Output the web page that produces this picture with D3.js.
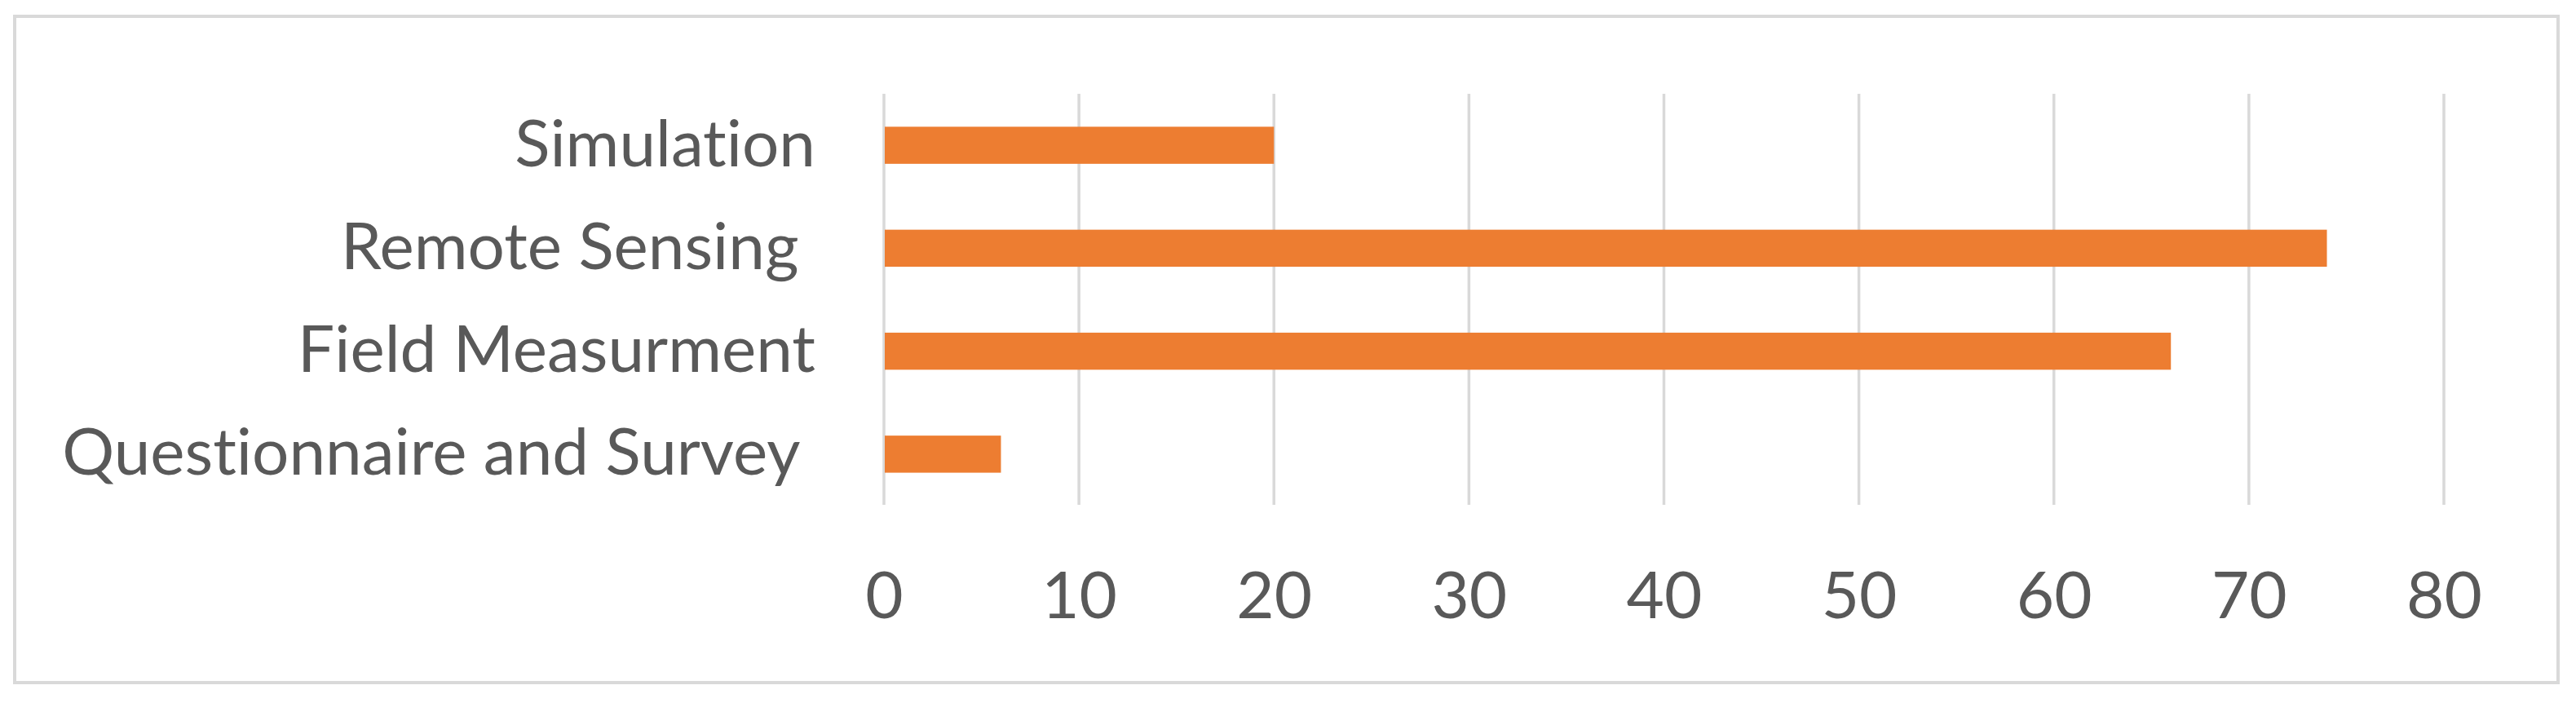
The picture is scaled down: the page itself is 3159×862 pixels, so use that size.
<!DOCTYPE html>
<html>
<head>
<meta charset="utf-8">
<script src="https://cdn.jsdelivr.net/npm/d3@7"></script>
<style>
  html, body { margin: 0; padding: 0; background: #ffffff; }
  svg text { white-space: pre; font-variant-ligatures: none; font-feature-settings: "liga" 0, "clig" 0; }
</style>
</head>
<body>
<svg id="chart" width="3159" height="862"></svg>
<script>
// Data
const categories = ["Simulation", "Remote Sensing ", "Field Measurment", "Questionnaire and Survey "];
const values = [20, 74, 66, 6];
const tickValues = [0, 10, 20, 30, 40, 50, 60, 70, 80];
const tickLabels = ["0", "10", "20", "30", "40", "50", "60", "70", "80"];

const svg = d3.select("#chart");
const fontFamily = "Lato, 'Open Sans', sans-serif";
const fontSize = 80;
const textColor = "#595959";
const gridColor = "#d9d9d9";
const barColor = "#ED7D31";

// outer border
svg.append("rect")
  .attr("x", 18).attr("y", 20)
  .attr("width", 3137 - 18).attr("height", 837 - 20)
  .attr("fill", "#ffffff")
  .attr("stroke", gridColor)
  .attr("stroke-width", 4);

const x = d3.scaleLinear().domain([0, 80]).range([1084, 2997]);
const y = d3.scaleBand().domain(categories).range([115, 620])
  .paddingInner(0.64).paddingOuter(0.32);

const plotTop = 115, plotBottom = 619;

// gridlines
svg.append("g")
  .selectAll("line")
  .data(tickValues)
  .join("line")
  .attr("x1", d => x(d)).attr("x2", d => x(d))
  .attr("y1", plotTop).attr("y2", plotBottom)
  .attr("stroke", gridColor)
  .attr("stroke-width", 3.5);

// bars
svg.append("g")
  .selectAll("rect")
  .data(categories)
  .join("rect")
  .attr("x", x(0) + 1)
  .attr("y", d => y(d))
  .attr("width", (d, i) => x(values[i]) - x(0) - 1)
  .attr("height", y.bandwidth())
  .attr("fill", barColor);

// category axis labels
const yAxis = d3.axisLeft(y).tickSize(0).tickPadding(0);
const gy = svg.append("g").attr("transform", "translate(1000,0)").call(yAxis);
gy.select(".domain").remove();
gy.selectAll("text")
  .attr("font-family", fontFamily)
  .attr("font-size", fontSize)
  .attr("fill", textColor)
  .attr("dy", "0.32em");

// value axis labels
const xAxis = d3.axisBottom(x).tickValues(tickValues)
  .tickFormat((d, i) => tickLabels[i]).tickSize(0).tickPadding(0);
const gx = svg.append("g").attr("transform", "translate(0,758)").call(xAxis);
gx.select(".domain").remove();
gx.selectAll("text")
  .attr("font-family", fontFamily)
  .attr("font-size", fontSize)
  .attr("fill", textColor)
  .attr("dy", 0)
  .attr("y", 0);
</script>
</body>
</html>
